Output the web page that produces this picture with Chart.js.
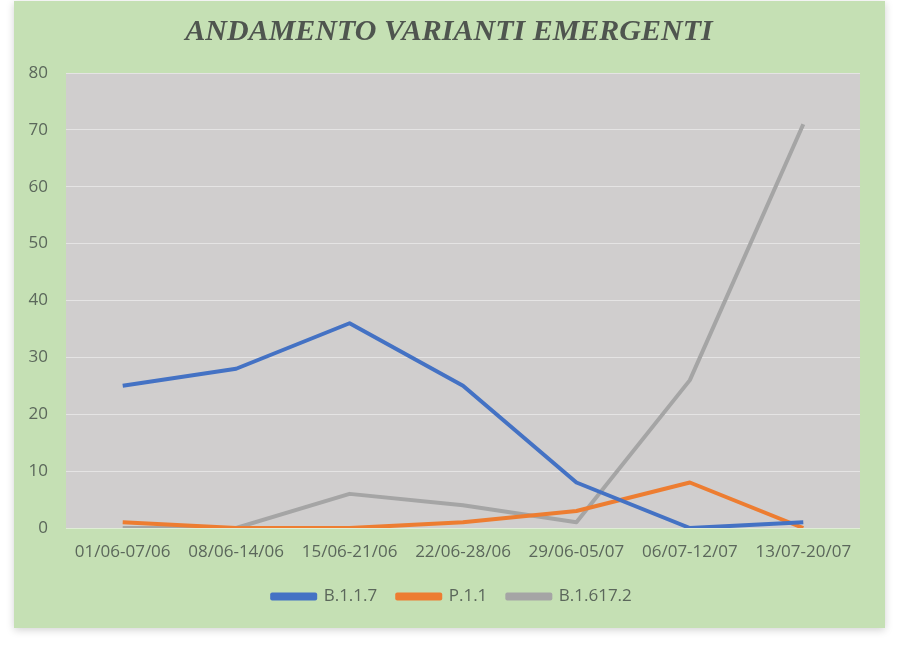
<!DOCTYPE html>
<html><head><meta charset="utf-8">
<script src="https://cdn.jsdelivr.net/npm/chart.js@4.4.0/dist/chart.umd.min.js"></script>
<style>html,body{margin:0;padding:0;background:#fff;}#wrap{width:903px;height:652px;}</style>
</head><body><div id="wrap"><canvas id="c" width="903" height="652"></canvas></div>
<script>
const categories = ["01/06-07/06","08/06-14/06","15/06-21/06","22/06-28/06","29/06-05/07","06/07-12/07","13/07-20/07"];
const seriesNames = ["B.1.1.7","P.1.1","B.1.617.2"];
const b117 = [25, 28, 36, 25, 8, 0, 1];
const p11 = [1, 0, 0, 1, 3, 8, 0];
const b16172 = [0, 0, 6, 4, 1, 26, 71];
const yTicks = [0,10,20,30,40,50,60,70,80];
const titleText = "ANDAMENTO VARIANTI EMERGENTI";

const colors = ["#4472C4", "#ED7D31", "#A5A5A5"];
const textColor = "#5b675b";

const bgPlugin = {
  id: 'bg',
  afterLayout(chart) {
    if (chart.legend) { chart.legend.left += 22; chart.legend.right += 22; }
  },
  beforeDraw(chart) {
    const ctx = chart.ctx;
    ctx.save();
    ctx.shadowColor = 'rgba(0,0,0,0.18)';
    ctx.shadowBlur = 8;
    ctx.shadowOffsetY = 2;
    ctx.fillStyle = '#C5E0B4';
    ctx.fillRect(14, 1, 871, 627);
    ctx.restore();
    const a = chart.chartArea;
    ctx.save();
    ctx.fillStyle = '#D0CECE';
    ctx.fillRect(a.left, a.top, a.right - a.left, a.bottom - a.top);
    ctx.fillStyle = '#4f554f';
    ctx.font = 'italic bold 30px "Liberation Serif", "Times New Roman", serif';
    ctx.textAlign = 'center';
    ctx.textBaseline = 'middle';
    ctx.fillText(titleText, 449, 32);
    ctx.restore();
  }
};

new Chart(document.getElementById('c'), {
  type: 'line',
  data: {
    labels: categories,
    datasets: [
      {label: seriesNames[0], data: b117, borderColor: colors[0], backgroundColor: colors[0]},
      {label: seriesNames[1], data: p11, borderColor: colors[1], backgroundColor: colors[1]},
      {label: seriesNames[2], data: b16172, borderColor: colors[2], backgroundColor: colors[2]}
    ].map(d => Object.assign(d, {borderWidth: 4, pointRadius: 0, tension: 0, fill: false, borderCapStyle: 'butt', borderJoinStyle: 'round'}))
  },
  options: {
    responsive: false,
    animation: false,
    layout: {padding: {left: 0, right: 43, top: 73, bottom: 37}},
    scales: {
      x: {
        offset: true,
        grid: {display: false},
        border: {display: false},
        ticks: {color: textColor, font: {family: '"Open Sans", "Liberation Sans", sans-serif', size: 17}, maxRotation: 0, autoSkip: false, padding: 6},
        afterFit(s) { s.height = 40; }
      },
      y: {
        min: 0, max: 80,
        afterBuildTicks(s) { s.ticks = yTicks.map(v => ({value: v})); },
        grid: {color: 'rgba(255,255,255,0.45)', lineWidth: 1, drawTicks: false},
        border: {display: false},
        ticks: {color: textColor, font: {family: '"Open Sans", "Liberation Sans", sans-serif', size: 17}, padding: 18},
        afterFit(s) { s.width = 66; }
      }
    },
    plugins: {
      title: {display: false},
      tooltip: {enabled: false},
      legend: {
        position: 'bottom',
        labels: {color: textColor, boxWidth: 43, boxHeight: 4, padding: 20, font: {family: '"Open Sans", "Liberation Sans", sans-serif', size: 17}}
      }
    }
  },
  plugins: [bgPlugin]
});
</script>
</body></html>
